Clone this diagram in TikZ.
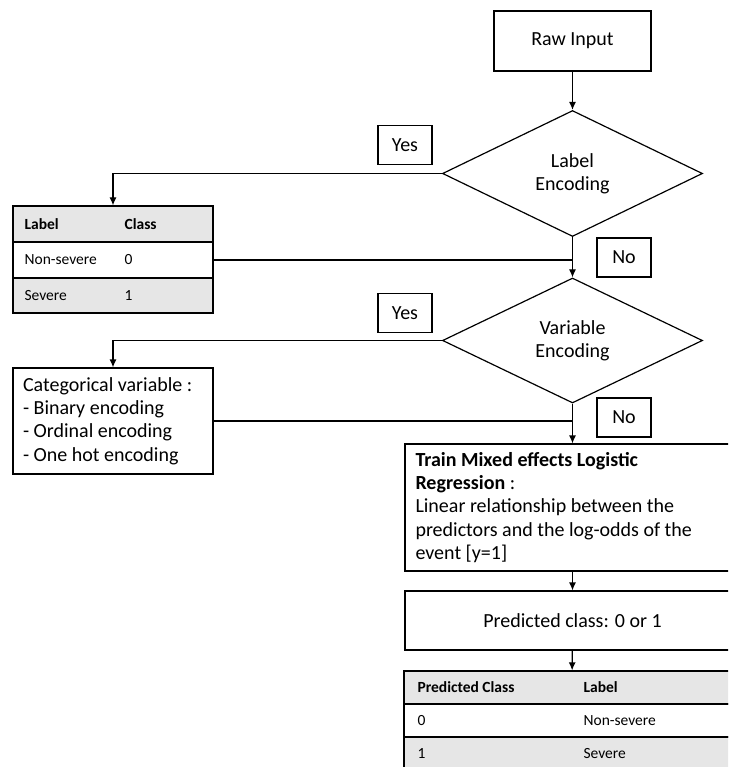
\documentclass[tikz,border=0pt]{standalone}
\usepackage{fontspec}
\setmainfont{Carlito}
\usetikzlibrary{arrows.meta,shapes.geometric}
\definecolor{rowgray}{HTML}{E6E6E6}
\newcommand{\boxfont}{\fontsize{20}{23.3}\selectfont}
\newcommand{\tabfont}{\fontsize{15.5}{18}\selectfont}

\begin{document}
\begin{tikzpicture}[x=1pt,y=-1pt,line width=1.2pt,
  box/.style={draw,rectangle,inner sep=0pt,font=\boxfont},
  decision/.style={draw,diamond,aspect=2,inner sep=0pt,minimum width=260pt,
    minimum height=126pt,align=center,font=\boxfont},
  answer/.style={draw,minimum width=54pt,minimum height=39pt,inner sep=0pt,font=\boxfont},
  row/.style={draw,inner sep=0pt,minimum height=36pt},
  cell/.style={anchor=west,inner sep=0pt,font=\tabfont},
  arr/.style={->,>={Latex[length=8pt,width=7pt]}}]
  \useasboundingbox (0,0) rectangle (728,767);
  \clip (0,0) rectangle (728,767);
  % Decisions and boxes
  \node[box,minimum width=157pt,minimum height=60pt] (raw) at (572.5,41) {Raw Input};
  \node[decision] (labenc) at (572.5,173.5) {Label\\Encoding};
  \node[answer] (yes1) at (405,145) {Yes};
  \node[answer] (no1) at (624,257.5) {No};
  \node[decision,minimum height=125pt] (varenc) at (572.5,340.5) {Variable\\Encoding};
  \node[answer] (yes2) at (405,313) {Yes};
  \node[answer] (no2) at (624,417.5) {No};
  \node[box,minimum width=200pt,minimum height=106pt,text width=180pt,inner xsep=10pt,
    align=flush left] (catvar) at (113,421)
    {Categorical variable :\\- Binary encoding\\- Ordinal encoding\\- One hot encoding};
  \node[box,minimum width=335pt,minimum height=127pt,text width=314pt,inner xsep=10.5pt,
    align=flush left] (train) at (572.5,507.5)
    {\textbf{Train Mixed effects Logistic}\\\textbf{Regression} :\\Linear relationship between the\\predictors and the log-odds of the\\event [y=1]};
  \node[box,minimum width=335pt,minimum height=59pt] (pred) at (572.5,620.5) {Predicted class: 0 or 1};
  % Label table
  \node[row,fill=rowgray,minimum width=200pt] (t1head) at (113,224) {};
  \node[row,minimum width=200pt] (t1zero) at (113,260) {};
  \node[row,fill=rowgray,minimum width=200pt,minimum height=35pt] (t1one) at (113,295.5) {};
  \node[cell,font=\tabfont\bfseries] (t1lab) at (24,224) {Label};
  \node[cell,font=\tabfont\bfseries] (t1cls) at (124,224) {Class};
  \node[cell] (t1ns) at (24,260) {Non-severe};
  \node[cell] (t1nsval) at (124,260) {0};
  \node[cell] (t1s) at (24,295.5) {Severe};
  \node[cell] (t1sval) at (124,295.5) {1};
  % Prediction table
  \node[row,fill=rowgray,minimum width=336pt,minimum height=33pt] (t2head) at (572,687.5) {};
  \node[row,minimum width=336pt,minimum height=33pt] (t2zero) at (572,720.5) {};
  \node[row,fill=rowgray,minimum width=336pt,minimum height=33pt] (t2one) at (572,753.5) {};
  \node[cell,font=\tabfont\bfseries] (t2pc) at (417,687.5) {Predicted Class};
  \node[cell,font=\tabfont\bfseries] (t2lab) at (583,687.5) {Label};
  \node[cell] (t2zval) at (417,720.5) {0};
  \node[cell] (t2ns) at (583,720.5) {Non-severe};
  \node[cell] (t2oval) at (417,753.5) {1};
  \node[cell] (t2s) at (583,753.5) {Severe};
  % Arrows
  \draw[arr] (raw) -- (labenc);
  \draw[arr] (labenc.west) -| (t1head.north);
  \draw (t1zero.east) -- (t1zero.east -| labenc.south);
  \draw[arr] (labenc) -- (varenc);
  \draw[arr] (varenc.west) -| (catvar.north);
  \draw (catvar.east) -- (catvar.east -| varenc.south);
  \draw[arr] (varenc) -- (train);
  \draw[arr] (train) -- (pred);
  \draw[arr] (pred) -- (t2head);
\end{tikzpicture}
\end{document}
